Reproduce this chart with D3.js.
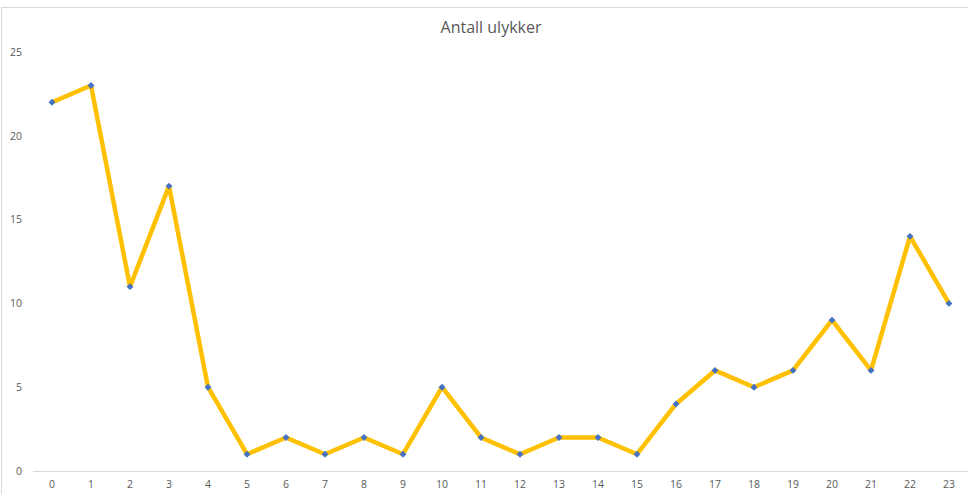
<!DOCTYPE html>
<html>
<head>
<script src="https://d3js.org/d3.v7.min.js"></script>
<style>
  body { margin: 0; background: #fff; }
  svg { display: block; font-family: "Open Sans", sans-serif; }
</style>
</head>
<body>
<div id="chart"></div>
<script>
// Data
let hours = d3.range(0, 24).map(String);
let accidents = [22, 23, 11, 17, 5, 1, 2, 1, 2, 1, 5, 2, 1, 2, 2, 1, 4, 6, 5, 6, 9, 6, 14, 10];
let yTicks = [0, 5, 10, 15, 20, 25];
let title = "Antall ulykker";

let width = 968, height = 494;
let svg = d3.select("#chart").append("svg")
    .attr("width", width)
    .attr("height", height);

// chart frame
svg.append("rect")
    .attr("x", 1.5).attr("y", 7.5)
    .attr("width", 1000).attr("height", 600)
    .attr("fill", "none")
    .attr("stroke", "#d9d9d9");

let x = d3.scaleBand()
    .domain(hours)
    .range([32.5, 968.5]);

let y = d3.scaleLinear()
    .domain([0, 25])
    .range([471, 52]);

// title
svg.append("text")
    .attr("x", 491).attr("y", 33)
    .attr("text-anchor", "middle")
    .attr("font-size", 16)
    .attr("fill", "#595959")
    .text(title);

// y axis labels
let yAxis = svg.append("g")
    .attr("transform", "translate(22,0)")
    .call(d3.axisLeft(y).tickValues(yTicks).tickSize(0).tickPadding(0));
yAxis.select(".domain").remove();
yAxis.selectAll("text").attr("font-size", 10.5).attr("fill", "#595959")
    .attr("font-family", "'Open Sans', sans-serif");

// x axis
let xAxis = svg.append("g")
    .attr("transform", "translate(0," + y(0) + ")")
    .call(d3.axisBottom(x).tickSize(0).tickPadding(10));
xAxis.select(".domain").attr("stroke", "#d9d9d9").attr("stroke-width", 1);
xAxis.selectAll("text").attr("font-size", 10.5).attr("fill", "#595959")
    .attr("font-family", "'Open Sans', sans-serif");

let cx = d => x(d) + x.bandwidth() / 2;

// line
let line = d3.line()
    .x((d, i) => cx(hours[i]))
    .y(d => y(d));

svg.append("path")
    .datum(accidents)
    .attr("d", line)
    .attr("fill", "none")
    .attr("stroke", "#FFC000")
    .attr("stroke-width", 4.5)
    .attr("stroke-linejoin", "round");

// diamond markers
svg.selectAll(".marker")
    .data(accidents)
    .join("path")
    .attr("class", "marker")
    .attr("d", d3.symbol().type(d3.symbolDiamond2).size(30))
    .attr("transform", (d, i) => "translate(" + cx(hours[i]) + "," + y(d) + ")")
    .attr("fill", "#4472C4");
</script>
</body>
</html>
